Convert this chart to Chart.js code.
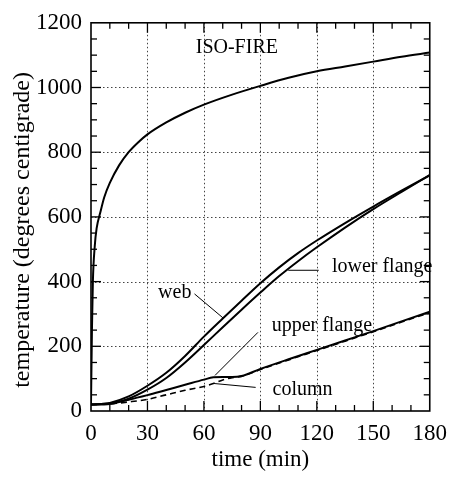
<!DOCTYPE html>
<html>
<head>
<meta charset="utf-8">
<script src="https://cdn.jsdelivr.net/npm/chart.js@4.4.0/dist/chart.umd.min.js"></script>
<style>
  html, body { margin: 0; padding: 0; background: #fff; }
</style>
</head>
<body>
<canvas id="chart" width="456" height="481"></canvas>
<script>
// Data (time in min, temperature in degrees C)
const isoTime = [0, 0.5, 1, 2, 3, 5, 7, 10, 15, 20, 25, 30, 40, 50, 60, 75, 90, 105, 120, 135, 150, 165, 180];
const isoTemp = [20, 250, 400, 510, 565, 615, 660, 705, 760, 800, 830, 855, 892, 922, 947, 978, 1005, 1030, 1050, 1065, 1080, 1095, 1108];

const beamTime = [0, 10, 20, 30, 40, 50, 60, 70, 80, 90, 100, 110, 120, 135, 150, 165, 180];
const webTemp = [20, 25, 45, 78, 118, 170, 230, 286, 341, 395, 444, 488, 527, 581, 632, 681, 729];
const lowerFlangeTemp = [20, 22, 38, 66, 102, 150, 204, 259, 313, 366, 417, 463, 506, 567, 624, 677, 729];

const lowTime = [0, 10, 20, 30, 40, 50, 60, 65, 70, 75, 80, 90, 105, 120, 135, 150, 165, 180];
const upperFlangeTemp = [20, 24, 35, 49, 65, 81, 97, 104, 105, 105, 108, 130, 160, 189, 218, 247, 277, 307];
const columnTemp = [20, 22, 28, 36, 50, 64, 76, 85, 96, 103, 107, 128, 158, 187, 216, 245, 275, 304];

const xTicks = [0, 30, 60, 90, 120, 150, 180];
const yTicks = [0, 200, 400, 600, 800, 1000, 1200];

const yTitle = 'temperature (degrees centigrade)';

// curve labels and their leader lines, in data units
const notes = [
    { text: 'ISO-FIRE', t: 77.5, v: 1122, align: 'center' },
    { text: 'web', t: 44.5, v: 365, align: 'center' },
    { text: 'lower flange', t: 128, v: 447, align: 'left' },
    { text: 'upper flange', t: 96, v: 265, align: 'left' },
    { text: 'column', t: 96.5, v: 67, align: 'left' }
];
const leaders = [
    [55, 362, 70.5, 286],
    [104.8, 435, 121, 435],
    [88.7, 243, 65.9, 110],
    [87.5, 73, 65.4, 85]
];

const serif = '"Liberation Serif", "Times New Roman", serif';

function pts(xs, ys) {
    return xs.map((x, i) => ({ x: x, y: ys[i] }));
}

function line(ctx, x1, y1, x2, y2) {
    ctx.beginPath();
    ctx.moveTo(x1, y1);
    ctx.lineTo(x2, y2);
    ctx.stroke();
}

// dotted grid, boxed frame with inward ticks, curve labels, y title
const framePlugin = {
    id: 'frame',
    beforeDatasetsDraw(chart) {
        const { ctx, chartArea: a, scales: { x, y } } = chart;
        ctx.save();
        ctx.strokeStyle = '#444';
        ctx.lineWidth = 1;
        ctx.setLineDash([1.5, 2.5]);
        xTicks.slice(1, -1).forEach(v => {
            const px = Math.round(x.getPixelForValue(v)) + 0.5;
            line(ctx, px, a.top, px, a.bottom);
        });
        yTicks.slice(1, -1).forEach(v => {
            const py = Math.round(y.getPixelForValue(v)) + 0.5;
            line(ctx, a.left, py, a.right, py);
        });
        ctx.restore();
    },
    afterDraw(chart) {
        const { ctx, chartArea: a, scales: { x, y } } = chart;
        ctx.save();
        ctx.strokeStyle = '#000';
        ctx.lineWidth = 1.6;
        ctx.strokeRect(a.left, a.top, a.right - a.left, a.bottom - a.top);

        ctx.lineWidth = 1.3;
        for (let t = 10; t < 180; t += 10) {
            const px = x.getPixelForValue(t);
            const len = t % 30 === 0 ? 10 : 6;
            line(ctx, px, a.bottom, px, a.bottom - len);
            line(ctx, px, a.top, px, a.top + len);
        }
        for (let v = 50; v < 1200; v += 50) {
            const py = y.getPixelForValue(v);
            const len = v % 200 === 0 ? 10 : 6;
            line(ctx, a.left, py, a.left + len, py);
            line(ctx, a.right, py, a.right - len, py);
        }

        ctx.lineWidth = 1;
        leaders.forEach(l => {
            line(ctx, x.getPixelForValue(l[0]), y.getPixelForValue(l[1]),
                x.getPixelForValue(l[2]), y.getPixelForValue(l[3]));
        });

        ctx.fillStyle = '#000';
        ctx.font = '20px ' + serif;
        ctx.textBaseline = 'middle';
        notes.forEach(n => {
            ctx.textAlign = n.align;
            ctx.fillText(n.text, x.getPixelForValue(n.t), y.getPixelForValue(n.v));
        });

        // y axis title, sits a little below the middle of the axis like the original
        ctx.font = '24px ' + serif;
        ctx.textAlign = 'center';
        ctx.translate(23, (a.top + a.bottom) / 2 + 13);
        ctx.rotate(-Math.PI / 2);
        ctx.fillText(yTitle, 0, 0);
        ctx.restore();
    }
};

const baseSet = {
    borderColor: '#000',
    borderWidth: 2,
    pointRadius: 0,
    fill: false,
    cubicInterpolationMode: 'monotone'
};

new Chart(document.getElementById('chart'), {
    type: 'line',
    data: {
        datasets: [
            Object.assign({ label: 'ISO-FIRE', data: pts(isoTime, isoTemp) }, baseSet),
            Object.assign({ label: 'web', data: pts(beamTime, webTemp) }, baseSet),
            Object.assign({ label: 'lower flange', data: pts(beamTime, lowerFlangeTemp) }, baseSet),
            Object.assign({ label: 'upper flange', data: pts(lowTime, upperFlangeTemp) }, baseSet),
            Object.assign({ label: 'column', data: pts(lowTime, columnTemp) }, baseSet, { borderDash: [6, 4], borderWidth: 1.6 })
        ]
    },
    options: {
        responsive: false,
        devicePixelRatio: 1,
        animation: false,
        layout: { padding: { top: 15, right: 18, left: 0, bottom: 0 } },
        plugins: {
            legend: { display: false },
            tooltip: { enabled: false }
        },
        scales: {
            x: {
                type: 'linear',
                min: 0,
                max: 180,
                afterBuildTicks: s => { s.ticks = xTicks.map(v => ({ value: v })); },
                afterFit: s => { s.height = 70; },
                grid: { display: false, drawTicks: false },
                border: { display: false },
                ticks: { color: '#000', padding: 9, maxRotation: 0, font: { family: serif, size: 23 } },
                title: {
                    display: true,
                    text: 'time (min)',
                    color: '#000',
                    padding: { top: 0, bottom: 7 },
                    font: { family: serif, size: 23 }
                }
            },
            y: {
                type: 'linear',
                min: 0,
                max: 1200,
                afterBuildTicks: s => { s.ticks = yTicks.map(v => ({ value: v })); },
                afterFit: s => { s.width = 91; },
                grid: { display: false, drawTicks: false },
                border: { display: false },
                ticks: {
                    color: '#000',
                    padding: 9,
                    font: { family: serif, size: 23 },
                    callback: v => String(v)
                }
            }
        }
    },
    plugins: [framePlugin]
});
</script>
</body>
</html>
